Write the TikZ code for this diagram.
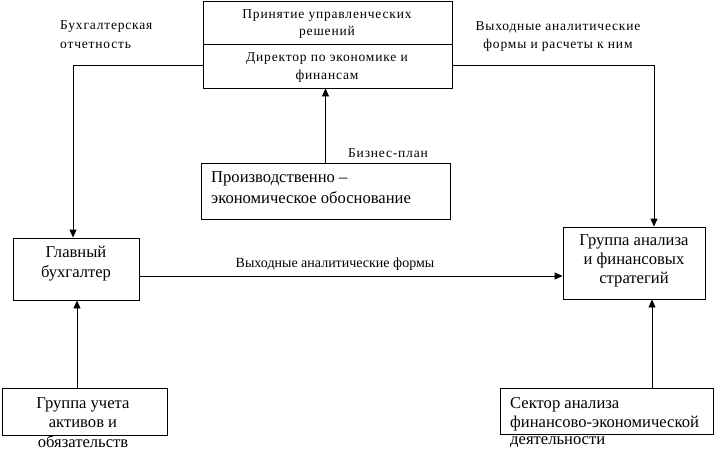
\documentclass[tikz,border=0pt]{standalone}
\usepackage{fontspec}
\setmainfont{Liberation Serif}
\newfontfamily\spreadfont[LetterSpace=6]{Liberation Serif}
\usetikzlibrary{arrows.meta}
\begin{document}
\begin{tikzpicture}[x=1pt,y=-1pt,
  box/.style={draw,line width=0.9pt,inner sep=0pt},
  arr/.style={line width=0.9pt,-{Triangle[length=8pt,width=7pt]}},
  sm/.style={font=\spreadfont\fontsize{13.5}{15}\selectfont,inner sep=0pt,align=center},
  smn/.style={font=\fontsize{14}{16}\selectfont,inner sep=0pt,align=center},
  lg/.style={font=\fontsize{16.6}{19}\selectfont,inner sep=0pt,align=center},
  lgl/.style={font=\fontsize{16.6}{19}\selectfont,inner sep=0pt,align=left,anchor=west}]
\useasboundingbox (0,0) rectangle (715,450);
% boxes
\node[box,minimum width=249pt,minimum height=87pt] (top) at (327.5,44.5) {};
\draw[line width=0.9pt] (203,44) -- (452,44);
\node[box,minimum width=249pt,minimum height=56pt] (prod) at (325.5,191) {};
\node[box,minimum width=126pt,minimum height=62pt] (gb) at (76,269) {};
\node[box,minimum width=142pt,minimum height=72pt] (gaf) at (634,263) {};
\node[box,minimum width=165pt,minimum height=47pt] (guo) at (84.5,411.5) {};
\node[box,minimum width=213pt,minimum height=46pt] (sek) at (606.5,411) {};
% texts
\node[sm] (t1) at (327,16) {Принятие управленческих};
\node[sm] (t2) at (327,32) {решений};
\node[sm] (t3) at (327,59) {Директор по экономике и};
\node[sm] (t4) at (327,76) {финансам};
\node[lgl] (p1) at (211,179) {Производственно –};
\node[lgl] (p2) at (211,198) {экономическое обоснование};
\node[lg] (g1) at (76,252) {Главный};
\node[lg] (g2) at (76,273) {бухгалтер};
\node[lg] (a1) at (634,242) {Группа анализа};
\node[lg] (a2) at (634,261) {и финансовых};
\node[lg] (a3) at (634,280) {стратегий};
\node[lg] (u1) at (83,405) {Группа учета};
\node[lg] (u2) at (83,424) {активов и};
\node[lg] (u3) at (83,442) {обязательств};
\node[lgl] (s1) at (510,405) {Сектор анализа};
\node[lgl] (s2) at (510,424) {финансово-экономической};
\node[lgl] (s3) at (510,442) {деятельности};
% labels
\node[sm,anchor=west] (l1) at (60,27) {Бухгалтерская};
\node[sm,anchor=west] (l2) at (60,45) {отчетность};
\node[sm] (r1) at (558,27) {Выходные аналитические};
\node[sm] (r2) at (558,45) {формы и расчеты к ним};
\node[sm,anchor=west] (bp) at (348,153) {Бизнес-план};
\node[smn] (mf) at (335,264) {Выходные аналитические формы};
% connectors
\coordinate (tl) at (203,65);
\coordinate (tr) at (452,65);
\draw[arr] (tl) -| ([xshift=-3pt]gb.north);
\draw[arr] (tr) -| ([xshift=20pt]gaf.north);
\draw[arr] (prod.north) -- (prod.north |- top.south);
\draw[arr] ([yshift=-7pt]gb.east) -- ([yshift=-7pt]gb.east -| gaf.west);
\draw[arr] ([xshift=-7.5pt]guo.north) -- ([xshift=-7.5pt]guo.north |- gb.south);
\draw[arr] ([xshift=45.5pt]sek.north) -- ([xshift=45.5pt]sek.north |- gaf.south);
\end{tikzpicture}
\end{document}
